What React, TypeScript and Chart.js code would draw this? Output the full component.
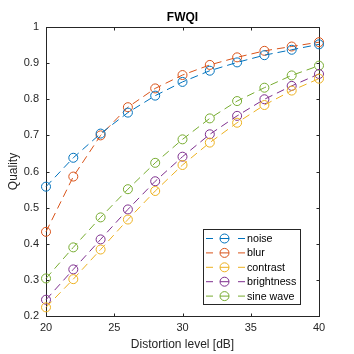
import React, { useEffect, useRef } from "react";
import { Chart, registerables } from "chart.js";

Chart.register(...registerables);

const distortion = [20, 22, 24, 26, 28, 30, 32, 34, 36, 38, 40];
const noise = [0.558, 0.638, 0.705, 0.763, 0.81, 0.848, 0.879, 0.902, 0.922, 0.937, 0.952];
const blur = [0.433, 0.586, 0.7, 0.778, 0.83, 0.867, 0.895, 0.916, 0.934, 0.946, 0.958];
const contrast = [0.224, 0.302, 0.384, 0.467, 0.546, 0.618, 0.68, 0.735, 0.784, 0.824, 0.857];
const brightness = [0.245, 0.329, 0.412, 0.495, 0.573, 0.641, 0.703, 0.754, 0.8, 0.837, 0.87];
const sineWave = [0.304, 0.39, 0.473, 0.551, 0.624, 0.689, 0.747, 0.795, 0.832, 0.866, 0.893];

const seriesNames = ["noise", "blur", "contrast", "brightness", "sine wave"];
const seriesValues = [noise, blur, contrast, brightness, sineWave];
const seriesColors = ["#0072BD", "#D95319", "#EDB120", "#7E2F8E", "#77AC30"];

const titleText = "FWQI";
const xTitle = "Distortion level [dB]";
const yTitle = "Quality";

const FONT = "'Liberation Sans', Arial, Helvetica, sans-serif";
const AX = "#262626";

const decorPlugin = {
  id: "decor",
  beforeDatasetsDraw(chart: any) {
    const { ctx, chartArea: a, scales } = chart;
    ctx.save();
    ctx.strokeStyle = AX;
    ctx.lineWidth = 1;
    ctx.setLineDash([]);
    const L = Math.round(a.left) + 0.5;
    const R = Math.round(a.right) + 0.5;
    const T = Math.round(a.top) + 0.5;
    const B = Math.round(a.bottom) + 0.5;
    ctx.strokeRect(L, T, R - L, B - T);
    const tl = 3;
    ctx.beginPath();
    for (const t of scales.x.ticks) {
      const px = Math.round(scales.x.getPixelForValue(t.value)) + 0.5;
      ctx.moveTo(px, B);
      ctx.lineTo(px, B - tl);
      ctx.moveTo(px, T);
      ctx.lineTo(px, T + tl);
    }
    for (const t of scales.y.ticks) {
      const py = Math.round(scales.y.getPixelForValue(t.value)) + 0.5;
      ctx.moveTo(L, py);
      ctx.lineTo(L + tl, py);
      ctx.moveTo(R, py);
      ctx.lineTo(R - tl, py);
    }
    ctx.stroke();
    ctx.restore();
  },
  afterDraw(chart: any) {
    const { ctx, chartArea: a } = chart;
    ctx.save();
    const cx = (a.left + a.right) / 2;
    const cy = (a.top + a.bottom) / 2;
    // title
    ctx.fillStyle = "#000";
    ctx.textAlign = "center";
    ctx.textBaseline = "middle";
    ctx.font = `bold 12px ${FONT}`;
    ctx.fillText(titleText, cx, 18);
    // axis titles
    ctx.fillStyle = AX;
    ctx.font = `12px ${FONT}`;
    ctx.fillText(xTitle, cx, 345);
    ctx.save();
    ctx.translate(14, cy);
    ctx.rotate(-Math.PI / 2);
    ctx.fillText(yTitle, 0, 0);
    ctx.restore();

    // legend
    const bx = 203.5, by = 229.5, bw = 97, bh = 75;
    ctx.fillStyle = "#fff";
    ctx.fillRect(bx, by, bw, bh);
    ctx.strokeStyle = AX;
    ctx.lineWidth = 1;
    ctx.strokeRect(bx, by, bw, bh);
    ctx.font = `10.7px ${FONT}`;
    ctx.textAlign = "left";
    ctx.textBaseline = "middle";
    chart.data.datasets.forEach((ds: any, i: number) => {
      const y = 238.5 + i * 14.4;
      ctx.strokeStyle = ds.borderColor;
      ctx.lineWidth = 1;
      ctx.beginPath();
      ctx.moveTo(206, y); ctx.lineTo(213, y);
      ctx.moveTo(220, y); ctx.lineTo(229, y);
      ctx.moveTo(238, y); ctx.lineTo(245, y);
      ctx.stroke();
      ctx.beginPath();
      ctx.arc(224.5, y, 4.5, 0, Math.PI * 2);
      ctx.stroke();
      ctx.fillStyle = "#000";
      ctx.fillText(ds.label, 247, y + 0.5);
    });
    ctx.restore();
  },
};

export default function App() {
  const ref = useRef<HTMLCanvasElement | null>(null);
  useEffect(() => {
    if (!ref.current) return;
    const chart = new Chart(ref.current, {
      type: "line",
      data: {
        datasets: seriesNames.map((name, i) => ({
          label: name,
          data: distortion.map((x, j) => ({ x, y: seriesValues[i][j] })),
          borderColor: seriesColors[i],
          backgroundColor: "rgba(0,0,0,0)",
          borderWidth: 1,
          borderDash: [8, 5],
          pointRadius: 4.5,
          pointHoverRadius: 4.5,
          pointBorderWidth: 1,
          pointBorderColor: seriesColors[i],
          pointBackgroundColor: "rgba(0,0,0,0)",
          pointStyle: "circle",
          fill: false,
          tension: 0,
          clip: false as any,
        })),
      },
      options: {
        animation: false,
        responsive: false,
        events: [],
        layout: { padding: { left: 0, top: 27, right: 35, bottom: 0 } },
        plugins: {
          legend: { display: false },
          title: { display: false },
          tooltip: { enabled: false },
        },
        scales: {
          x: {
            type: "linear",
            min: 20,
            max: 40,
            ticks: {
              stepSize: 5,
              padding: 5,
              color: AX,
              font: { family: FONT, size: 11 },
              maxRotation: 0,
            },
            grid: { display: false, drawTicks: false, tickLength: 0 },
            border: { display: false },
            afterFit: (s: any) => {
              s.height = 38;
            },
          },
          y: {
            type: "linear",
            min: 0.2,
            max: 1,
            ticks: {
              stepSize: 0.1,
              padding: 7,
              color: AX,
              font: { family: FONT, size: 11 },
              callback: (v: any) => String(Number(Number(v).toFixed(1))),
            },
            grid: { display: false, drawTicks: false, tickLength: 0 },
            border: { display: false },
            afterFit: (s: any) => {
              s.width = 46;
            },
          },
        },
      },
      plugins: [decorPlugin],
    });
    return () => chart.destroy();
  }, []);
  return (
    <div style={{ position: "absolute", left: 0, top: 0, width: 354, height: 354, background: "#fff" }}>
      <canvas ref={ref} width={354} height={354} style={{ display: "block" }} />
    </div>
  );
}
